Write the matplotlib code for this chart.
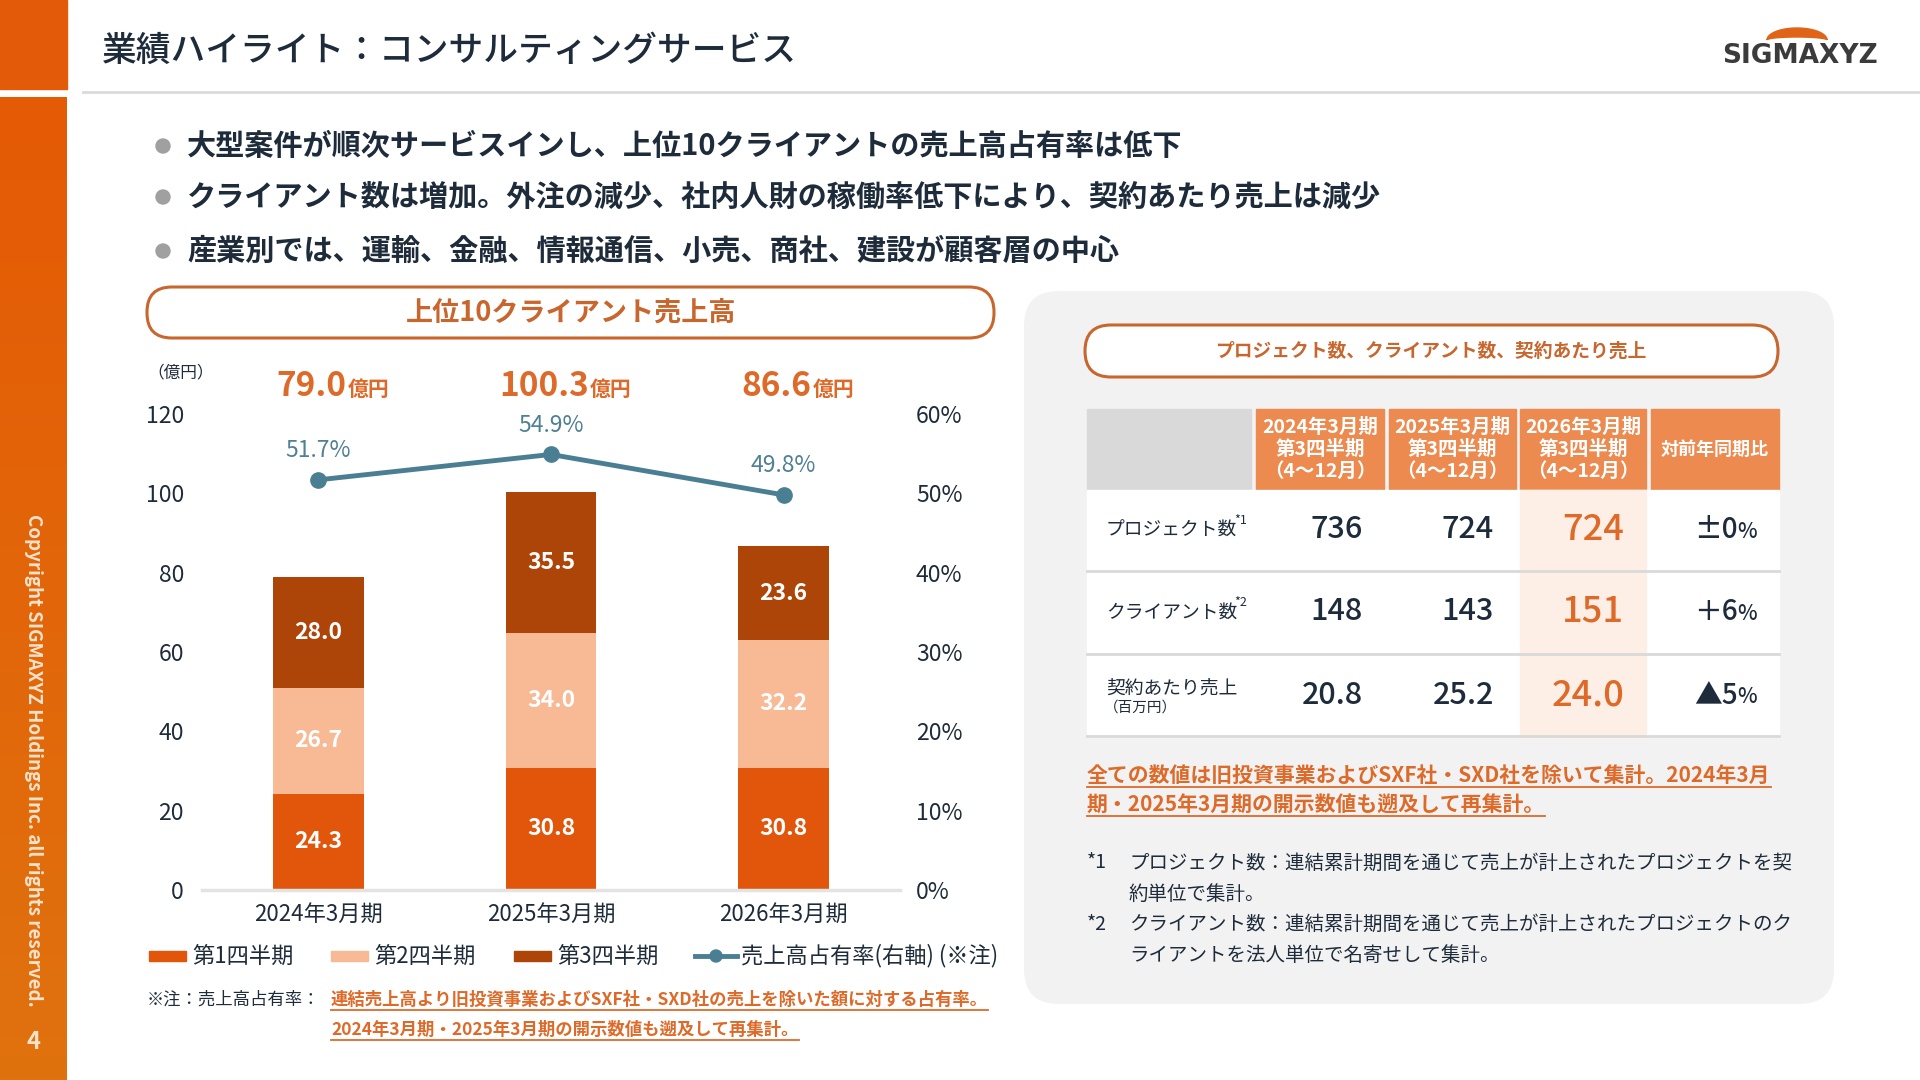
import numpy as np
import matplotlib
matplotlib.use('Agg')
import matplotlib.pyplot as plt
from matplotlib.patches import Rectangle, FancyBboxPatch, Polygon, Circle
from matplotlib.lines import Line2D

plt.rcParams['font.family'] = ['Noto Sans CJK JP', 'DejaVu Sans']

# ---- data ----
periods = ['2024年3月期', '2025年3月期', '2026年3月期']
quarter_names = ['第1四半期', '第2四半期', '第3四半期']
q1 = [24.3, 30.8, 30.8]
q2 = [26.7, 34.0, 32.2]
q3 = [28.0, 35.5, 23.6]
share = [51.7, 54.9, 49.8]  # %
share_name = '売上高占有率(右軸) (※注)'

bullets = [
    '大型案件が順次サービスインし、上位10クライアントの売上高占有率は低下',
    'クライアント数は増加。外注の減少、社内人財の稼働率低下により、契約あたり売上は減少',
    '産業別では、運輸、金融、情報通信、小売、商社、建設が顧客層の中心',
]

table_years = ['2024年3月期', '2025年3月期', '2026年3月期']
table_rows = ['プロジェクト数', 'クライアント数', '契約あたり売上']
table_marks = ['*1', '*2', '']
projects = ['736', '724', '724']
clients = ['148', '143', '151']
sales_per_contract = ['20.8', '25.2', '24.0']
yoy = [('±0', '%'), ('＋6', '%'), ('▲5', '%')]

NAVY = '#1d2b3a'
ORANGE = '#de6a2a'
PILL = '#c8662e'
C_Q = ['#e2560b', '#f8b995', '#ad4408']
TEAL = '#4a7f93'

fig = plt.figure(figsize=(19.2, 10.8), dpi=100)
bg = fig.add_axes([0, 0, 1, 1])
bg.axis('off')

# left orange bar with gradient
grad = np.linspace(0, 1, 256)[:, None]
c0 = np.array([0.898, 0.353, 0.020])
c1 = np.array([0.878, 0.447, 0.055])
img = (c0 + (c1 - c0) * grad[..., None]) * np.ones((256, 2, 3))
bg.imshow(img, extent=[0, 67, 1080, 97], origin='upper', aspect='auto')
bg.add_patch(Rectangle((0, 0), 67, 89, color='#e35a08'))
bg.set_xlim(0, 1920)
bg.set_ylim(1080, 0)

bg.plot([83, 1920], [92, 92], color='#dadada', lw=2)
bg.text(102, 51, '業績ハイライト：コンサルティングサービス', fontsize=25,
        color=NAVY, va='center', fontweight='medium')

# logo
t = np.linspace(0, np.pi, 60)
arc = np.vstack([np.c_[1797 + 30 * np.cos(t), 40 - 12 * np.sin(t)],
                 np.c_[1797 + 30 * np.cos(t[::-1]), 40 - 3 * np.sin(t[::-1])]])
bg.add_patch(Polygon(arc, closed=True, color='#e06418'))
bg.text(1800, 56, 'SIGMAXYZ', fontsize=19, fontweight='bold', color='#3b3b3b',
        ha='center', va='center', family='DejaVu Sans')

# copyright
bg.text(33, 514, 'Copyright SIGMAXYZ Holdings Inc. all rights reserved.',
        rotation=-90, ha='center', va='top', fontsize=13.5, fontweight='bold',
        color='#fbe2cb')
bg.text(33, 1042, '4', ha='center', va='center', fontsize=17,
        fontweight='bold', color='#fbe2cb')

# bullets
for i, b in enumerate(bullets):
    y = [146, 197, 251][i]
    bg.add_patch(Circle((163, y), 7, color='#a0a0a0'))
    bg.text(187, y, b, fontsize=21, color=NAVY, va='center', fontweight='bold')

# left pill
bg.add_patch(FancyBboxPatch((147, 287), 847, 51,
                            boxstyle='round,pad=0,rounding_size=25',
                            fc='white', ec=PILL, lw=2.2))
bg.text(571, 313, '上位10クライアント売上高', fontsize=19.5, color=PILL,
        ha='center', va='center', fontweight='bold')

# right panel
bg.add_patch(FancyBboxPatch((1024, 291), 810, 713,
                            boxstyle='round,pad=0,rounding_size=35',
                            fc='#f2f2f2', ec='none'))
bg.add_patch(FancyBboxPatch((1085, 325), 693, 52,
                            boxstyle='round,pad=0,rounding_size=26',
                            fc='white', ec=PILL, lw=2.2))
bg.text(1431, 351, 'プロジェクト数、クライアント数、契約あたり売上', fontsize=13.5,
        color=PILL, ha='center', va='center', fontweight='bold')

# ---- stacked bar chart ----
ax = fig.add_axes([202 / 1920, 190 / 1080, 698 / 1920, 476 / 1080])
ax.patch.set_alpha(0)
x = np.arange(len(periods))
bottom = np.zeros(len(periods))
for vals, col, name in zip([q1, q2, q3], C_Q, quarter_names):
    bars = ax.bar(x, vals, 0.39, bottom=bottom, color=col, label=name)
    ax.bar_label(bars, labels=[f'{v:.1f}' for v in vals], label_type='center',
                 color='white', fontsize=16.5, fontweight='bold')
    bottom += np.array(vals)
totals = bottom

ax.set_xlim(-0.5, 2.5)
ax.set_ylim(0, 120)
ax.set_yticks(range(0, 121, 20))
ax.set_xticks(x)
ax.set_xticklabels(periods)
for s in ['top', 'right', 'left']:
    ax.spines[s].set_visible(False)
ax.spines['bottom'].set_color('#e3e3e3')
ax.spines['bottom'].set_linewidth(2.5)
ax.tick_params(axis='y', length=0, pad=13, labelsize=16.5, labelcolor=NAVY)
ax.tick_params(axis='x', length=0, pad=9, labelsize=16, labelcolor=NAVY)

ax2 = ax.twinx()
ax2.set_ylim(0, 0.6)
ax2.set_yticks(np.arange(0, 0.61, 0.1))
ax2.set_yticklabels([f'{int(round(v * 100))}%' for v in np.arange(0, 0.61, 0.1)])
for s in ax2.spines.values():
    s.set_visible(False)
ax2.tick_params(axis='y', length=0, pad=11.5, labelsize=16.5, labelcolor=NAVY)
share_frac = np.array(share) / 100
ax2.plot(x, share_frac, color=TEAL, lw=3.5, marker='o', ms=11)
for xi, v in zip(x, share):
    ax2.annotate(f'{v:.1f}%', (xi, v / 100), xytext=(0, 29),
                 textcoords='offset pixels', ha='center', va='center',
                 color='#4f8094', fontsize=16.5)

bg.text(147, 373, '（億円）', fontsize=12, color=NAVY, va='center')

# totals above bars
tot_texts = []
for xi, tot in zip(x, totals):
    px, py = ax.transData.transform((xi, 120))
    t1 = bg.text(px, 396, f'{tot:.1f}', fontsize=24, fontweight='bold',
                 color=ORANGE, va='baseline', ha='left')
    t2 = bg.text(px, 396, '億円', fontsize=15, fontweight='bold',
                 color=ORANGE, va='baseline', ha='left')
    tot_texts.append((px, t1, t2))

# legend
ly = 956
for x0, col, name in zip([149, 331, 514], C_Q, quarter_names):
    bg.add_patch(Rectangle((x0, ly - 5), 37, 10, color=col))
    bg.text(x0 + 43, ly, name, fontsize=16, color=NAVY, va='center')
bg.add_line(Line2D([695, 737], [ly, ly], color=TEAL, lw=3.5))
bg.add_patch(Circle((716, ly), 6, color=TEAL))
bg.text(741, ly, share_name, fontsize=16, color=NAVY, va='center')

# footnote under chart
bg.text(147, 1000, '※注：売上高占有率：', fontsize=12.5, color=NAVY, va='center')
under = []
under.append(bg.text(331, 1000, '連結売上高より旧投資事業およびSXF社・SXD社の売上を除いた額に対する占有率。',
                     fontsize=12.5, color=ORANGE, va='center', fontweight='bold'))
under.append(bg.text(331, 1030, '2024年3月期・2025年3月期の開示数値も遡及して再集計。',
                     fontsize=12.5, color=ORANGE, va='center', fontweight='bold'))

# ---- table ----
col_l = [1256, 1389, 1520, 1651]
col_r = [1384, 1516, 1646, 1779]
bg.add_patch(Rectangle((1087, 409), 164, 81, color='#d9d9d9'))
for l, r in zip(col_l, col_r):
    bg.add_patch(Rectangle((l, 409), r - l, 81, color='#ec8a4f'))
for j, yr in enumerate(table_years):
    cx = (col_l[j] + col_r[j]) / 2
    for line, yy in zip([yr, '第3四半期', '（4～12月）'], [427, 449, 471]):
        bg.text(cx, yy, line, fontsize=14, color='white', fontweight='bold',
                ha='center', va='center')
bg.text((col_l[3] + col_r[3]) / 2, 449, '対前年同期比', fontsize=13,
        color='white', fontweight='bold', ha='center', va='center')

bg.add_patch(Rectangle((1087, 490), 692, 247, color='white'))
bg.add_patch(Rectangle((1520, 490), 126, 247, color='#fdeee6'))
for yy in [571, 654, 736]:
    bg.plot([1087, 1779], [yy, yy], color='#d9d9d9', lw=2)

row_y = [530, 612, 695]
row_vals = [projects, clients, sales_per_contract]
rights = [1363, 1494, 1624]
sup_texts = []
for i, (name, mark) in enumerate(zip(table_rows, table_marks)):
    yy = row_y[i]
    if i == 2:
        bg.text(1106, 688, name, fontsize=13.5, color=NAVY, va='center')
        bg.text(1104, 708, '（百万円）', fontsize=10.5, color=NAVY, va='center')
    else:
        tl = bg.text(1106, yy, name, fontsize=13.5, color=NAVY, va='center')
        ts = bg.text(1106, yy - 10, mark, fontsize=9, color=NAVY, va='center')
        sup_texts.append((tl, ts))
    for j in range(3):
        big = j == 2
        bg.text(rights[j], yy, row_vals[i][j], fontsize=26 if big else 22,
                color=ORANGE if big else NAVY, ha='right', va='center',
                fontweight='medium')
yoy_texts = []
for i, (num, pct) in enumerate(yoy):
    tp = bg.text(1757, row_y[i] + 2, pct, fontsize=15, color=NAVY, ha='right',
                 va='center', fontweight='medium')
    tn = bg.text(1757, row_y[i], num, fontsize=20, color=NAVY, ha='right',
                 va='center', fontweight='medium')
    yoy_texts.append((tp, tn))

under.append(bg.text(1087, 775, '全ての数値は旧投資事業およびSXF社・SXD社を除いて集計。2024年3月',
                     fontsize=15, color=ORANGE, va='center', fontweight='bold'))
under.append(bg.text(1087, 804, '期・2025年3月期の開示数値も遡及して再集計。',
                     fontsize=15, color=ORANGE, va='center', fontweight='bold'))

notes = [('*1', ['プロジェクト数：連結累計期間を通じて売上が計上されたプロジェクトを契', '約単位で集計。'], 863),
         ('*2', ['クライアント数：連結累計期間を通じて売上が計上されたプロジェクトのク', 'ライアントを法人単位で名寄せして集計。'], 924)]
for mark, lines, y0 in notes:
    bg.text(1087, y0, mark, fontsize=14, color=NAVY, va='center')
    bg.text(1129, y0, lines[0], fontsize=14, color=NAVY, va='center')
    bg.text(1129, y0 + 31, lines[1], fontsize=14, color=NAVY, va='center')

# ---- measure-based placement ----
fig.canvas.draw()
r = fig.canvas.get_renderer()
for px, t1, t2 in tot_texts:
    w1 = t1.get_window_extent(r).width
    w2 = t2.get_window_extent(r).width
    start = px + 14 - (w1 + w2) / 2
    t1.set_x(start)
    t2.set_x(start + w1 + 1)
for tl, ts in sup_texts:
    bb = tl.get_window_extent(r)
    ts.set_x(bb.x1 - 3)
for tp, tn in yoy_texts:
    w = tp.get_window_extent(r).width
    tn.set_x(1757 - w)
for tx in under:
    bb = tx.get_window_extent(r)
    yb = 1080 - bb.y0 + 1
    bg.plot([bb.x0, bb.x1], [yb, yb], color=ORANGE, lw=1.3)

fig.savefig('out.png', dpi=100)
